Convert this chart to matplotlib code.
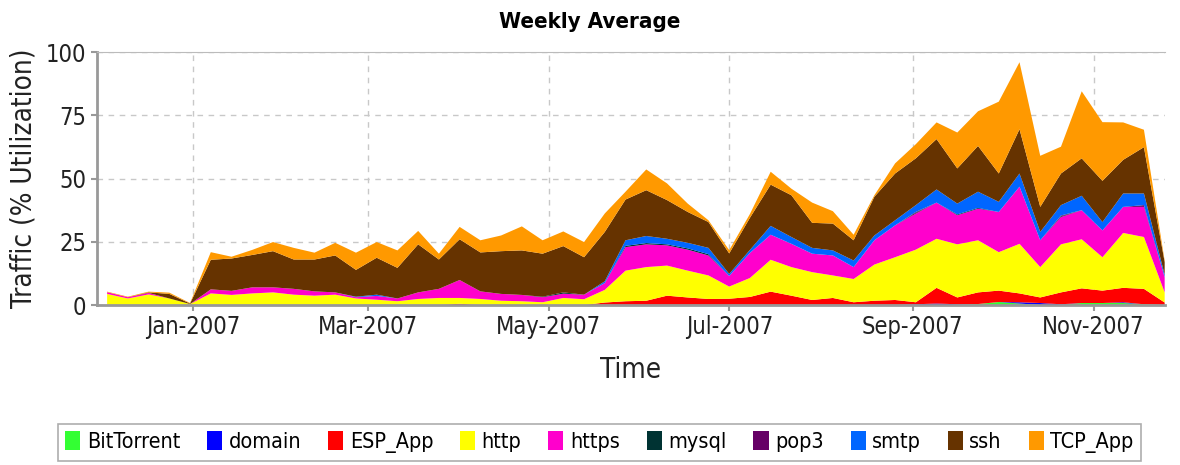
import pandas as pd
import matplotlib
matplotlib.use('Agg')
import matplotlib.pyplot as plt
import matplotlib.dates as mdates

plt.rcParams['font.family'] = ['DejaVu Sans']
plt.rcParams['font.stretch'] = 'condensed'

# weekly sample dates
weeks = pd.date_range('2006-12-03', periods=52, freq='7D')

# % utilization per protocol (stack order bottom -> top)
bittorrent = [0, 0, 0, 0, 0, 0, 0, 0, 0, 0, 0, 0, 0, 0, 0, 0, 0, 0, 0, 0, 0, 0, 0, 0, 0, 0,
              0, 0, 0, 0, 0, 0, 0, 0, 0, 0, 0, 0, 0, 0, 0, 0, 0.4, 1.2, 0.6, 0, 0, 0.8, 0.8, 0.8, 0.3, 0]
domain = [0, 0, 0, 0, 0, 0, 0, 0, 0, 0, 0, 0, 0, 0, 0, 0, 0, 0, 0, 0, 0, 0, 0, 0, 0, 0,
          0, 0, 0, 0, 0, 0, 0, 0, 0, 0, 0, 0, 0, 0.3, 0.6, 0.3, 0, 0, 0.5, 0.8, 0.3, 0, 0, 0.3, 0, 0]
esp_app = [0, 0, 0, 0, 0, 0, 0, 0, 0, 0, 0, 0, 0, 0, 0, 0, 0, 0.5, 0, 0, 0, 0, 0, 0, 1.0, 1.5,
           1.7, 3.7, 3.0, 2.4, 2.5, 3.2, 5.3, 3.7, 2.0, 2.8, 1.1, 1.7, 2.0, 0.8, 6.2, 2.7, 4.6, 4.5, 3.5, 2.2, 4.7, 5.8, 4.9, 5.7, 6.1, 1.0]
http = [4.4, 2.6, 4.2, 2.6, 0.4, 4.6, 4.0, 4.6, 5.0, 4.1, 3.7, 4.1, 2.6, 2.1, 1.5, 2.4, 2.8, 2.3, 2.4, 1.7, 1.5, 1.1, 2.8, 2.3, 5.0, 12.1,
        13.3, 11.9, 10.6, 9.3, 4.8, 7.5, 12.6, 11.3, 11.0, 8.9, 9.2, 14.3, 16.9, 20.8, 19.4, 21.0, 20.6, 15.2, 19.6, 12.0, 19.0, 19.4, 13.2, 21.7, 20.5, 4.0]
https = [0.7, 0.5, 0.6, 0, 0, 1.6, 1.6, 2.4, 2.0, 2.3, 1.7, 0.9, 0.5, 1.5, 1.1, 2.6, 3.6, 7.1, 3.0, 2.7, 2.5, 2.0, 1.7, 1.8, 2.7, 9.3,
         9.0, 8.0, 8.3, 7.9, 4.2, 9.9, 9.9, 9.2, 7.3, 7.9, 4.7, 9.6, 12.6, 14.3, 14.3, 11.5, 12.5, 15.9, 22.6, 10.6, 10.8, 11.5, 10.6, 10.3, 11.9, 6.0]
mysql = [0, 0, 0, 0, 0, 0, 0, 0, 0, 0, 0, 0, 0, 0, 0, 0, 0, 0, 0, 0, 0, 0.2, 0.5, 0, 0, 0.5,
         0.5, 0.4, 0.5, 0.5, 0, 0, 0, 0, 0, 0, 0, 0, 0, 0.3, 0, 0.3, 0.3, 0, 0, 0, 0.3, 0, 0, 0, 0, 0]
pop3 = [0, 0, 0, 0, 0, 0, 0, 0, 0, 0, 0, 0, 0, 0, 0, 0, 0, 0, 0, 0, 0, 0, 0, 0, 0, 0,
        0, 0, 0, 0, 0, 0, 0, 0, 0, 0, 0, 0, 0, 0.3, 0, 0, 0, 0, 0, 0, 0.3, 0, 0, 0, 0.7, 0]
smtp = [0, 0, 0, 0, 0, 0, 0, 0, 0, 0, 0, 0, 0.2, 0.5, 0, 0, 0, 0, 0, 0, 0, 0, 0, 0, 0.7, 2.2,
        2.8, 2.2, 2.2, 2.5, 0.8, 1.2, 3.5, 2.7, 2.3, 2.0, 2.6, 1.9, 2.0, 2.7, 5.2, 4.3, 6.4, 4.0, 5.2, 3.3, 4.1, 5.7, 3.3, 5.3, 4.6, 1.0]
ssh = [0, 0, 0.2, 1.8, 0.2, 11.7, 12.8, 12.8, 14.3, 11.6, 12.6, 14.6, 10.6, 14.6, 12.1, 19.0, 11.6, 16.1, 15.4, 16.9, 17.6, 17.0, 18.3, 14.8, 19.5, 16.1,
       18.1, 15.3, 12.2, 10.2, 8.1, 12.7, 16.3, 16.5, 9.9, 10.6, 8.0, 15.3, 18.5, 18.5, 19.9, 13.9, 18.1, 11.2, 17.5, 9.9, 12.5, 14.8, 16.3, 13.3, 18.3, 5.0]
tcp_app = [0.2, 0.2, 0.3, 0.5, 0.2, 3.0, 0.7, 2.0, 3.6, 4.6, 2.7, 5.0, 6.8, 6.2, 6.9, 5.3, 2.3, 4.9, 4.8, 6.2, 9.5, 5.3, 5.8, 6.0, 7.3, 3.1,
           8.2, 6.6, 3.3, 0.7, 1.3, 1.5, 5.1, 2.6, 8.0, 4.9, 2.2, 0.6, 4.0, 5.6, 6.6, 14.2, 13.7, 28.4, 26.5, 20.2, 10.6, 26.5, 23.2, 14.8, 6.9, 0.5]

names = ['BitTorrent', 'domain', 'ESP_App', 'http', 'https', 'mysql', 'pop3', 'smtp', 'ssh', 'TCP_App']
colors = ['#33FF33', '#0000FF', '#FF0000', '#FFFF00', '#FF00CC', '#003333', '#660066', '#0066FF', '#663300', '#FF9900']
series = [bittorrent, domain, esp_app, http, https, mysql, pop3, smtp, ssh, tcp_app]

fig = plt.figure(figsize=(11.8, 4.65), dpi=100)
ax = fig.add_axes([0.082, 0.344, 0.905, 0.544])

ax.stackplot(weeks, *series, colors=colors, labels=names, linewidth=0)

ax.set_xlim(pd.Timestamp('2006-11-29 12:00'), pd.Timestamp('2007-11-25'))
ax.set_ylim(0, 100)
ax.set_yticks([0, 25, 50, 75, 100])
ax.xaxis.set_major_locator(mdates.MonthLocator(bymonth=[1, 3, 5, 7, 9, 11]))
ax.xaxis.set_major_formatter(mdates.DateFormatter('%b-%Y'))

ax.grid(True, color='#c8c8c8', linestyle=(0, (4, 4)), linewidth=1)
ax.set_axisbelow(True)
for s in ['left', 'bottom']:
    ax.spines[s].set_color('#999999')
    ax.spines[s].set_linewidth(2)
ax.spines['top'].set_color('#bbbbbb')
ax.spines['right'].set_visible(False)
ax.tick_params(axis='both', colors='#999999', labelcolor='#222222', length=4, width=1.5, labelsize=17)

fig.suptitle('Weekly Average', x=0.5, y=0.952, fontsize=16, fontweight='bold', va='center')
ax.set_xlabel('Time', fontsize=20, color='#222222', labelpad=12)
ax.set_ylabel('Traffic (% Utilization)', fontsize=20, color='#222222', labelpad=6)

leg = fig.legend(loc='center', bbox_to_anchor=(0.508, 0.049), ncol=10, fontsize=15.5,
                 frameon=True, fancybox=False, edgecolor='#999999', handlelength=0.7,
                 handleheight=1.0, handletextpad=0.3, columnspacing=1.25, borderpad=0.35)
leg.get_frame().set_linewidth(1.2)

fig.savefig('out.png', dpi=100)
